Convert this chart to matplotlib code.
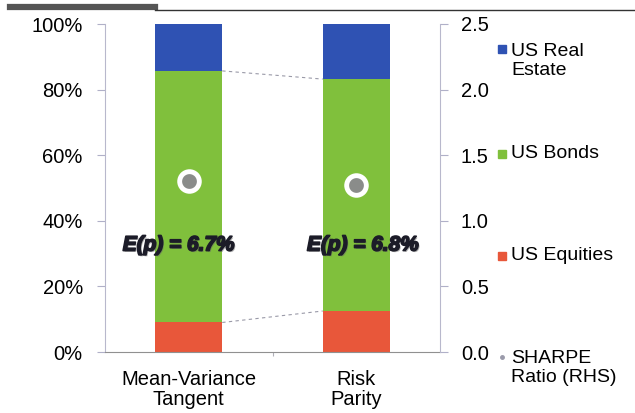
import numpy as np
import matplotlib.pyplot as plt
import matplotlib.patheffects as pe

plt.rcParams['font.family'] = ['Liberation Sans', 'DejaVu Sans']

# portfolio weights (%) and Sharpe ratios
portfolios = ["Mean-Variance\nTangent", "Risk\nParity"]
us_equities = [9.0, 12.5]
us_bonds = [76.7, 70.7]
us_real_estate = [14.3, 16.8]
sharpe = [1.30, 1.27]
exp_return = ["E(p) = 6.7%", "E(p) = 6.8%"]

c_eq = "#e8573a"
c_bd = "#80c03c"
c_re = "#2f52b3"

fig = plt.figure(figsize=(6.35, 4.13), dpi=100)
ax = fig.add_axes([105/635, 1 - 352/413, 335/635, 328/413])
x = np.arange(len(portfolios))
w = 0.4

eq = np.array(us_equities)
bd = np.array(us_bonds)
re = np.array(us_real_estate)
ax.bar(x, eq, w, color=c_eq)
ax.bar(x, bd, w, bottom=eq, color=c_bd)
ax.bar(x, re, w, bottom=eq + bd, color=c_re)

# series lines between bar tops
for top in [eq, eq + bd]:
    ax.plot([x[0] + w/2, x[1] - w/2], [top[0], top[1]], ls=(0, (3, 3)),
            color="#9a9aa8", lw=0.8)

ax.set_xlim(-0.5, 1.5)
ax.set_ylim(0, 100)
ax.set_yticks(np.arange(0, 101, 20))
ax.set_yticklabels([f"{v}%" for v in range(0, 101, 20)], fontsize=14.5)
ax.set_xticks([0.5])
ax.set_xticklabels([""])
ax.tick_params(axis="x", length=3, color="#b0b0b8")
ax.tick_params(axis="y", length=6, color="#b0b0c8", pad=10)
for s in ["top", "right"]:
    ax.spines[s].set_visible(False)
ax.spines["left"].set_color("#b8b8cc")
ax.spines["bottom"].set_color("#909090")

for i, lab in enumerate(portfolios):
    ax.text(x[i], -5.5, lab, ha="center", va="top", fontsize=14.5,
            linespacing=1.05, transform=ax.transData)

for i, t in enumerate(exp_return):
    ax.text(x[i] - 0.06 + 0.1 * i, 32.6, t, ha="center", va="center",
            fontsize=15, fontweight="bold", style="italic", color="#1c1c28",
            path_effects=[pe.withSimplePatchShadow(offset=(1, -1),
                                                   shadow_rgbFace="#666666", alpha=0.5),
                          pe.Stroke(linewidth=1.2, foreground="#1c1c28"),
                          pe.Normal()])

ax2 = ax.twinx()
ax2.set_ylim(0, 2.5)
ax2.set_yticks(np.arange(0, 2.51, 0.5))
ax2.set_yticklabels([f"{v:.1f}" for v in np.arange(0, 2.51, 0.5)], fontsize=14.5)
ax2.tick_params(axis="y", length=6, color="#b0b0c8", pad=9)
for s in ["top", "left", "bottom"]:
    ax2.spines[s].set_visible(False)
ax2.spines["right"].set_color("#b8b8cc")
ax2.scatter(x, sharpe, s=200, color="#8a8c8a", edgecolor="white",
            linewidth=3.5, zorder=5)

# legend drawn by hand on the right
legend = [("US Real\nEstate", c_re, 49, 61), ("US Bonds", c_bd, 154, 154),
          ("US Equities", c_eq, 256, 256), ("SHARPE\nRatio (RHS)", "#9a9aaa", 357, 368)]
for lab, col, ym, yt in legend:
    ms = 6 if "SHARPE" not in lab else 2.5
    fig.add_artist(plt.Line2D([502/635], [1 - ym/413], marker="s" if ms > 3 else "o",
                              ms=ms, color=col, ls="none"))
    fig.text(511/635, 1 - yt/413, lab, ha="left", va="center", fontsize=14,
             linespacing=1.15)

# header rule at top
fig.add_artist(plt.Line2D([10/635, 155/635], [1 - 7/413] * 2, lw=4.5, color="#555555"))
fig.add_artist(plt.Line2D([155/635, 1], [1 - 10/413] * 2, lw=1, color="#333333"))

fig.savefig("out.png", dpi=100)
